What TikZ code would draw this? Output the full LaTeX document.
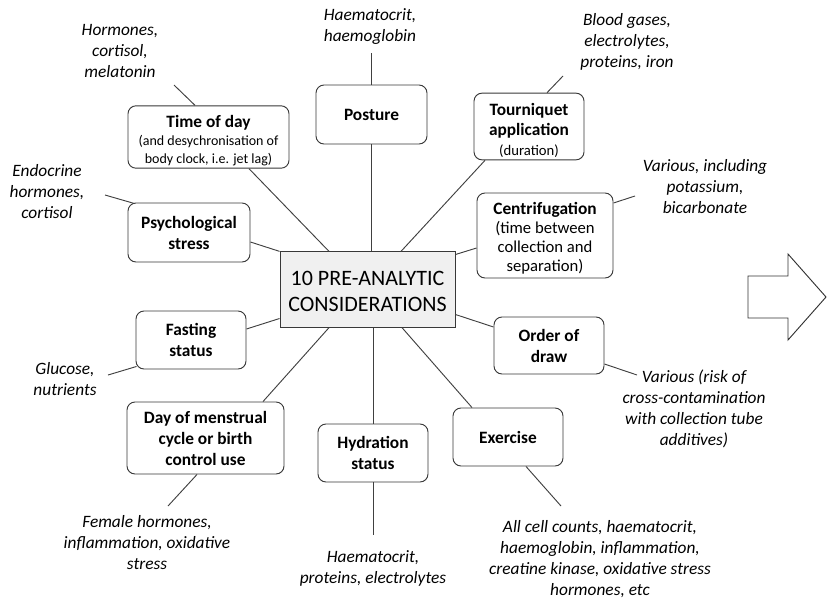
\documentclass[tikz,border=0pt]{standalone}
\usepackage{fontspec}
\setmainfont{Carlito}
\usetikzlibrary{calc}
\newcommand{\smtod}{\fontsize{10.5}{13.5}\selectfont\mdseries}
\newcommand{\smtou}{\fontsize{11}{15}\selectfont\mdseries}
\newcommand{\smcen}{\fontsize{12.5}{14.25}\selectfont\mdseries}
\begin{document}
\begin{tikzpicture}[x=0.75pt,y=-0.75pt,
  box/.style={draw=black!78, line width=0.7pt, rounded corners=6pt, align=center, inner sep=2pt,
    font=\fontsize{13}{15.75}\selectfont\bfseries, fill=white},
  lbl/.style={align=center, inner sep=0pt, font=\fontsize{13}{15.75}\selectfont\itshape},
  con/.style={draw=black!75, line width=0.7pt}]
\useasboundingbox (0,0) rectangle (827,608);
% center
\node[draw=black!78, line width=0.7pt, fill=black!6, align=center, minimum width=131.25pt, minimum height=56.5pt, inner sep=0pt,
  font=\fontsize{16.5}{19.5}\selectfont] (ctr) at (367.5,289.5) {\rule{0pt}{14pt}10 PRE-ANALYTIC\\CONSIDERATIONS};
% boxes
\node[box, minimum width=120.75pt, minimum height=43.5pt] (tod) at (208.5,137)
  {\rule{0pt}{14pt}Time of day\\[-2.25pt]\smtod (and desychronisation of\\[-2.25pt]\smtod body clock, i.e. jet lag)};
\node[box, minimum width=83.25pt, minimum height=44.25pt] (posture) at (371.5,114.5) {Posture};
\node[box, minimum width=82.5pt, minimum height=48.75pt] (tourn) at (529,126.5)
  {\rule{0pt}{14.5pt}Tourniquet\\[-0.75pt]application\\[-0.75pt]\smtou (duration)};
\node[box, minimum width=102pt, minimum height=63.75pt] (centr) at (545,235.5)
  {\rule{0pt}{13.5pt}Centrifugation\\[-1.5pt]\smcen (time between\\[-1.5pt]\smcen collection and\\[-1.5pt]\smcen separation)};
\node[box, minimum width=91.5pt, minimum height=44.25pt] (psych) at (189,232.5) {Psychological\\stress};
\node[box, minimum width=82.5pt, minimum height=43.5pt] (fast) at (191,340) {Fasting\\status};
\node[box, minimum width=117.75pt, minimum height=54pt] (mens) at (205.5,438) {Day of menstrual\\cycle or birth\\control use};
\node[box, minimum width=82.5pt, minimum height=43.5pt] (hyd) at (373,453) {Hydration\\status};
\node[box, minimum width=82.5pt, minimum height=43.5pt] (exer) at (508,437) {Exercise};
\node[box, minimum width=82.5pt, minimum height=42.75pt] (order) at (549,345.5) {Order of\\draw};
% labels
\node[lbl] (lhor) at (120,51) {Hormones,\\cortisol,\\melatonin};
\node[lbl] (lpos) at (370,27) {Haematocrit,\\haemoglobin};
\node[lbl] (lblood) at (627,42) {Blood gases,\\electrolytes,\\proteins, iron};
\node[lbl] (lvar) at (705,187) {Various, including\\potassium,\\bicarbonate};
\node[lbl] (lendo) at (47,192) {Endocrine\\hormones,\\cortisol};
\node[lbl] (lglu) at (65,379) {Glucose,\\nutrients};
\node[lbl] (lfem) at (147,543) {Female hormones,\\inflammation, oxidative\\stress};
\node[lbl] (lhyd) at (373,568) {Haematocrit,\\proteins, electrolytes};
\node[lbl] (lall) at (600,559) {All cell counts, haematocrit,\\haemoglobin, inflammation,\\creatine kinase, oxidative stress\\hormones, etc};
\node[lbl] (lord) at (694,409) {Various (risk of\\cross-contamination\\with collection tube\\additives)};
% free ends
\coordinate (etod) at (174,85);
\coordinate (epos) at (371.5,53);
\coordinate (etourn) at (563,76);
\coordinate (ecentr) at (635,196);
\coordinate (epsych) at (105,195);
\coordinate (efast) at (108,375);
\coordinate (emens) at (168,506);
\coordinate (ehyd) at (373,535);
\coordinate (eexer) at (561,506);
\coordinate (eorder) at (637,375);
% connectors
\draw[con] ($(tod.north)+(-13.5,0)$) -- (etod);
\draw[con] ($(tod.south)+(40.5,0)$) -- ($(ctr.north)+(-38.5,0)$);
\draw[con] (posture.north) -- (epos);
\draw[con] (posture.south) -- (posture.south |- ctr.north);
\draw[con] ($(tourn.north)+(18,0)$) -- (etourn);
\draw[con] ($(tourn.south)+(-44,0)$) -- ($(ctr.north)+(33.5,0)$);
\draw[con] ($(centr.west)+(0,12.5)$) -- ($(ctr.east)+(0,-35)$);
\draw[con] ($(centr.east)+(0,-32.5)$) -- (ecentr);
\draw[con] ($(psych.north west)+(7,1)$) -- (epsych);
\draw[con] ($(psych.east)+(0,9.5)$) -- (ctr.north west);
\draw[con] ($(fast.east)+(0,-11)$) -- ($(ctr.west)+(0,29)$);
\draw[con] ($(fast.south west)+(1,-3)$) -- (efast);
\draw[con] ($(mens.north)+(57.5,0)$) -- ($(ctr.south)+(-38.5,0)$);
\draw[con] ($(mens.south)+(-8.5,0)$) -- (emens);
\draw[con] (hyd.north) -- (hyd.north |- ctr.south);
\draw[con] (hyd.south) -- (ehyd);
\draw[con] ($(exer.north)+(-36,0)$) -- ($(ctr.south)+(34.5,0)$);
\draw[con] ($(exer.south)+(18,0)$) -- (eexer);
\draw[con] ($(order.west)+(0,-18.5)$) -- ($(ctr.east)+(0,25)$);
\draw[con] ($(order.east)+(0,18.5)$) -- (eorder);
% arrow
\draw[draw=black!80, line width=0.7pt, fill=white, line join=miter] (748,276) -- (788,276) -- (788,254) -- (826,297) -- (788,340) -- (788,318) -- (748,318) -- cycle;
\end{tikzpicture}
\end{document}
